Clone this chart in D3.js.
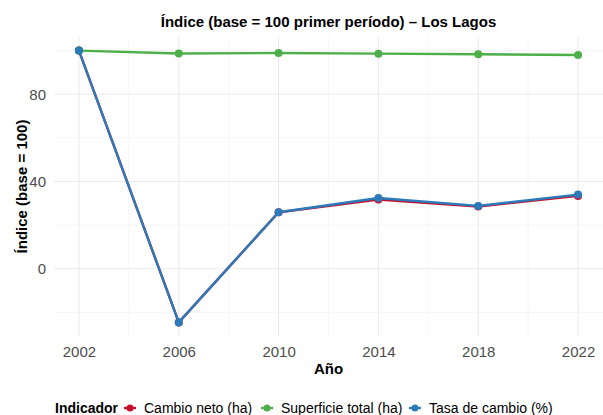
<!DOCTYPE html>
<html>
<head>
<meta charset="utf-8">
<script src="https://cdn.jsdelivr.net/npm/d3@7"></script>
<style>
  body { margin: 0; background: #fff; }
  text { font-family: "Liberation Sans", Arial, sans-serif; }
</style>
</head>
<body>
<div id="chart"></div>
<script>
// data
var years = [2002, 2006, 2010, 2014, 2018, 2022];
var cambioNeto = [100, -24.6, 25.9, 31.7, 28.5, 33.4];
var superficie = [100, 98.7, 98.9, 98.6, 98.3, 98.0];
var tasaCambio = [100, -24.6, 25.9, 32.4, 28.8, 34.0];
var seriesNames = ["Cambio neto (ha)", "Superficie total (ha)", "Tasa de cambio (%)"];
var seriesColors = ["#C8102E", "#4DAF4A", "#2B7BBA"];
var yTicks = [0, 40, 80];

var width = 603, height = 415;
var margin = {top: 37, right: 0, bottom: 79, left: 54};

var svg = d3.select("#chart").append("svg")
    .attr("width", width)
    .attr("height", height);

// scales with ggplot-like 5% expansion
var x = d3.scaleLinear()
    .domain([2001, 2023])
    .range([margin.left, width - margin.right]);

var allVals = cambioNeto.concat(superficie, tasaCambio);
var ymin = d3.min(allVals), ymax = d3.max(allVals), pad = (ymax - ymin) * 0.05;
var y = d3.scaleLinear()
    .domain([ymin - pad, ymax + pad])
    .range([height - margin.bottom, margin.top]);

var g = svg.append("g");

// grid lines
var xMinor = d3.range(2000, 2025, 4);
g.selectAll(".xminor").data(xMinor.filter(function(d) { return d > 2001 && d < 2023; }))
    .enter().append("line")
    .attr("x1", function(d) { return x(d); }).attr("x2", function(d) { return x(d); })
    .attr("y1", margin.top).attr("y2", height - margin.bottom)
    .attr("stroke", "#f0f0f0").attr("stroke-width", 0.6);
var yMinor = [-20, 20, 60, 100];
g.selectAll(".yminor").data(yMinor)
    .enter().append("line")
    .attr("x1", margin.left).attr("x2", width - margin.right)
    .attr("y1", function(d) { return y(d); }).attr("y2", function(d) { return y(d); })
    .attr("stroke", "#f0f0f0").attr("stroke-width", 0.6);
g.selectAll(".xmajor").data(years)
    .enter().append("line")
    .attr("x1", function(d) { return x(d); }).attr("x2", function(d) { return x(d); })
    .attr("y1", margin.top).attr("y2", height - margin.bottom)
    .attr("stroke", "#ebebeb").attr("stroke-width", 1.1);
g.selectAll(".ymajor").data(yTicks)
    .enter().append("line")
    .attr("x1", margin.left).attr("x2", width - margin.right)
    .attr("y1", function(d) { return y(d); }).attr("y2", function(d) { return y(d); })
    .attr("stroke", "#ebebeb").attr("stroke-width", 1.1);

// axes (labels only, as in theme_minimal)
var xAxis = svg.append("g")
    .attr("transform", "translate(0," + (height - margin.bottom) + ")")
    .call(d3.axisBottom(x).tickValues(years).tickFormat(d3.format("d")).tickSize(0).tickPadding(10));
var yAxis = svg.append("g")
    .attr("transform", "translate(" + margin.left + ",0)")
    .call(d3.axisLeft(y).tickValues(yTicks).tickSize(0).tickPadding(8));
[xAxis, yAxis].forEach(function(a) {
    a.select(".domain").remove();
    a.selectAll("text").attr("fill", "#4d4d4d").style("font-size", "15px")
        .style("font-family", "'Liberation Sans', Arial, sans-serif");
});

// lines and points
var data = [cambioNeto, superficie, tasaCambio];
var line = d3.line()
    .x(function(d, i) { return x(years[i]); })
    .y(function(d) { return y(d); });

data.forEach(function(vals, k) {
    g.append("path")
        .datum(vals)
        .attr("d", line)
        .attr("fill", "none")
        .attr("stroke", seriesColors[k])
        .attr("stroke-width", 2.4)
        .attr("stroke-linejoin", "round");
    g.selectAll(".pt" + k).data(vals)
        .enter().append("circle")
        .attr("cx", function(d, i) { return x(years[i]); })
        .attr("cy", function(d) { return y(d); })
        .attr("r", 4)
        .attr("fill", seriesColors[k]);
});

// titles
svg.append("text")
    .attr("x", (margin.left + width - margin.right) / 2).attr("y", 27)
    .attr("text-anchor", "middle")
    .style("font-size", "15px").style("font-weight", "bold")
    .text("Índice (base = 100 primer período) – Los Lagos");
svg.append("text")
    .attr("x", (margin.left + width - margin.right) / 2).attr("y", 374)
    .attr("text-anchor", "middle")
    .style("font-size", "15px").style("font-weight", "bold")
    .text("Año");
svg.append("text")
    .attr("transform", "translate(27," + ((margin.top + height - margin.bottom) / 2) + ") rotate(-90)")
    .attr("text-anchor", "middle")
    .style("font-size", "15px").style("font-weight", "bold")
    .text("Índice (base = 100)");

// legend
var leg = svg.append("g").attr("transform", "translate(0,408)");
leg.append("text").attr("x", 55).attr("y", 5)
    .style("font-size", "14px").style("font-weight", "bold").text("Indicador");
var keyX = [130, 267, 415];
seriesNames.forEach(function(name, k) {
    leg.append("line")
        .attr("x1", keyX[k] - 6).attr("x2", keyX[k] + 6)
        .attr("stroke", seriesColors[k]).attr("stroke-width", 2.4);
    leg.append("circle").attr("cx", keyX[k]).attr("r", 3.5).attr("fill", seriesColors[k]);
    leg.append("text").attr("x", keyX[k] + 14).attr("y", 5)
        .style("font-size", "14px").attr("fill", "#000").text(name);
});
</script>
</body>
</html>
